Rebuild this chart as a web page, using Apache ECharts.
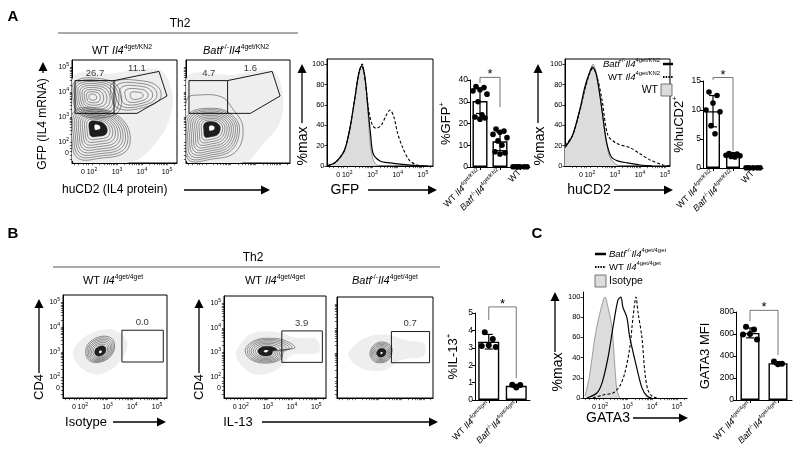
<!DOCTYPE html>
<html>
<head>
<meta charset="utf-8">
<script src="https://cdn.jsdelivr.net/npm/echarts@6.0.0/dist/echarts.min.js"></script>
<style>
html, body { margin: 0; padding: 0; background: #fff; }
#fig { width: 800px; height: 461px; }
</style>
</head>
<body>
<div id="fig"></div>
<script>
var FONT = '"Liberation Sans", Arial, Helvetica, sans-serif';

// ---- categories ----
var aCats = ['WT {i|Il4}{s|4get/KN2}', '{i|Batf}{s|-/-}{i|Il4}{s|4get/KN2}', 'WT'];
var bCats = ['WT {i|Il4}{s|4get/4get}', '{i|Batf}{s|-/-}{i|Il4}{s|4get/4get}'];

// ---- A : flow plots (values are decade positions on the biex axis) ----
var a1Speckle = [[1.24,1.2],[1.24,4.6],[2.7,4.75],[4.7,4.9],[5.2,4.0],[5.1,2.9],[4.5,1.9],[3.6,1.2]];
var a1LowCore = [2.2, 2.62];
var a1LowRing = [[1.28,3.23],[2.32,3.32],[3.12,2.99],[3.52,2.29],[3.32,1.59],[2.32,1.34],[1.44,1.34],[1.2,2.08]];
var a1UpCore = [2.0, 3.81];
var a1UpRing = [[1.32,4.43],[2.32,4.55],[3.04,4.22],[3.12,3.32],[2.52,2.99],[1.52,3.11],[1.24,3.73]];
var a1RightCore = [3.8, 3.85];
var a1RightRing = [[2.84,4.39],[3.92,4.47],[4.64,4.22],[4.72,3.73],[4.12,3.4],[3.12,3.32],[2.8,3.73]];

var a2Speckle = [[1.24,1.2],[1.24,4.6],[3.0,4.7],[4.7,4.85],[5.1,4.0],[5.0,2.8],[4.3,1.9],[3.6,1.2]];
var a2LowCore = [2.24, 2.58];
var a2LowRing = [[1.28,3.1],[2.36,3.35],[3.1,3.05],[3.36,2.49],[3.04,1.67],[2.16,1.38],[1.36,1.34],[1.2,2.08]];
var a2OuterRing = [[1.24,3.73],[1.76,3.89],[2.64,3.81],[3.04,3.4],[3.5,2.58],[3.2,1.6],[2.2,1.3],[1.3,1.28],[1.2,2.3]];

var aRectGate = [[1.32,3.15],[1.32,4.47],[2.88,4.47],[2.88,3.15],[1.32,3.15]];
var aPolyGate = [[2.88,4.47],[4.68,4.84],[5.0,3.85],[3.8,3.15],[2.88,3.15]];
var a1GateLabels = [[2.12,4.75,'26.7'],[3.8,4.95,'11.1']];
var a2GateLabels = [[2.12,4.75,'4.7'],[3.8,4.95,'1.6']];

// ---- A : histograms [decade, % of max] ----
var gfpCtl = [[1.24,0.5],[1.5,3],[1.7,7],[1.9,15],[2.1,35],[2.3,65],[2.45,88],[2.59,100],[2.71,85],[2.83,50],[2.91,22],[3.03,6],[3.18,1],[3.4,0]];
var gfpBatf = [[1.24,0.5],[1.5,3],[1.7,8],[1.9,16],[2.1,36],[2.3,66],[2.45,90],[2.57,98],[2.7,88],[2.83,55],[2.93,30],[3.03,12],[3.3,5],[3.7,3],[4.2,1.5],[4.8,0.3],[5.2,0]];
var gfpWt = [[1.24,0.5],[1.5,3],[1.7,8],[1.9,16],[2.1,36],[2.3,66],[2.45,90],[2.59,100],[2.72,82],[2.85,55],[3.0,40],[3.15,37],[3.35,40],[3.55,50],[3.7,55],[3.85,48],[4.0,32],[4.2,18],[4.45,6],[4.75,1],[5.1,0]];

var hucdCtl = [[1.0,20],[1.3,30],[1.6,55],[1.8,75],[2.0,92],[2.12,100],[2.28,88],[2.48,55],[2.68,20],[2.8,8],[3.08,1],[3.3,0]];
var hucdBatf = [[1.0,18],[1.3,30],[1.6,56],[1.8,78],[2.0,93],[2.1,97],[2.25,90],[2.45,60],[2.65,25],[2.85,9],[3.1,5],[3.5,3],[4.0,1],[4.5,0]];
var hucdWt = [[1.0,20],[1.3,30],[1.6,55],[1.8,76],[2.0,92],[2.12,96],[2.28,88],[2.48,65],[2.72,30],[3.08,22],[3.6,18],[4.0,12],[4.4,6],[4.92,1],[5.2,0]];

// ---- A : bar charts ----
var gfpWtDots = [37, 36.5, 35.5, 35, 33.5, 30, 24, 23, 22.5, 22];
var gfpBatfDots = [17.5, 16.5, 16, 15, 13.5, 12, 10, 7, 6.5, 6];
var gfpCtlDots = [0.1, 0.1, 0.1, 0.1, 0.1, 0.1];
var gfpMean = [30.3, 11.8, 0.1];
var gfpSd = [5.7, 4.3, 0];
var gfpSig = [38.5, 41.2, 27.5];

var hucdWtDots = [13.1, 12.5, 11.2, 10, 9.7, 7.3, 5.9];
var hucdBatfDots = [2.5, 2.4, 2.3, 2.2, 2.1, 2.0, 1.9];
var hucdCtlDots = [0.05, 0.05, 0.05, 0.05, 0.05];
var hucdMean = [9.8, 2.2, 0.05];
var hucdSd = [2.7, 0.25, 0];
var hucdSig = [15.2, 15.6, 3.0];

// ---- B : flow plots ----
var bGate = [[3.58,2.6],[3.58,3.88],[5.25,3.88],[5.25,2.6],[3.58,2.6]];
var b1GateLabels = [[4.4,4.2,'0.0']];
var b2GateLabels = [[4.4,4.2,'3.9']];
var b3GateLabels = [[4.4,4.2,'0.7']];
var b1Speckle = [[1.6,3.0],[2.2,3.7],[3.2,3.9],[3.8,3.4],[3.4,2.5],[2.6,2.1],[1.9,2.4]];
var b1Core = [2.71, 3.0];
var b1Ring = [[2.15,3.2],[2.5,3.55],[3.04,3.62],[3.28,3.34],[3.14,2.85],[2.62,2.58],[2.2,2.72]];
var b2Speckle = [[1.7,3.0],[2.3,3.75],[3.3,3.85],[4.2,3.6],[5.0,3.55],[5.1,3.0],[4.0,2.9],[3.4,2.3],[2.5,2.1],[1.9,2.5]];
var b2Core = [2.92, 3.05];
var b2Ring = [[2.08,3.13],[2.5,3.5],[3.12,3.58],[3.67,3.5],[4.12,3.21],[3.67,3.05],[3.54,2.73],[2.92,2.57],[2.29,2.73]];
var b3Speckle = [[1.7,3.0],[2.4,3.6],[3.4,3.75],[4.3,3.5],[5.0,3.4],[5.0,2.9],[4.0,2.7],[3.3,2.3],[2.5,2.3],[1.9,2.6]];
var b3Core = [3.15, 3.0];
var b3Ring = [[2.64,3.0],[2.85,3.35],[3.2,3.45],[3.55,3.3],[3.6,3.0],[3.4,2.68],[3.0,2.6],[2.75,2.72]];

var il13WtDots = [3.9, 3.5, 3.15, 3.1, 3.05];
var il13BatfDots = [0.88, 0.86, 0.72];
var il13Mean = [3.35, 0.82];
var il13Sd = [0.42, 0.08];
var il13Sig = [4.6, 5.35, 1.25];

// ---- C ----
var gataIso = [[1.28,2],[1.45,20],[1.68,60],[1.89,85],[2.09,100],[2.21,90],[2.37,70],[2.49,30],[2.57,8],[2.69,0]];
var gataBatf = [[1.36,0],[1.76,5],[1.97,15],[2.21,40],[2.41,70],[2.61,97],[2.73,100],[2.81,90],[2.97,80],[3.09,60],[3.37,30],[3.58,10],[3.78,2],[3.98,0]];
var gataWt = [[1.6,0],[2.01,3],[2.41,5],[2.69,12],[2.89,25],[3.09,50],[3.22,80],[3.34,100],[3.42,85],[3.58,60],[3.7,25],[3.82,8],[3.98,2],[4.18,0]];

var gataWtDots = [665, 640, 600, 595, 550];
var gataBatfDots = [350, 330, 325];
var gataMean = [610, 335];
var gataSd = [45, 13];
var gataSig = [715, 815, 410];

// ---------------------------------------------------------------
var dotOffsets = [-4, 4, 0, -7, 7, -2, 2, -5, 5, 0];

function richFor(size) {
    return {
        i: {fontSize: size, fontStyle: 'italic', fontFamily: FONT, lineHeight: size * 1.4},
        s: {fontSize: Math.round(size * 6.2) / 10, verticalAlign: 'top', fontFamily: FONT}
    };
}

var decTicks = [1.3, 1.45, 1.64, 1.75, 1.85];
for (var d = 2; d <= 5; d++) {
    for (var k = 1; k < 10; k++) decTicks.push(d + Math.log10(k));
}

function flowAxis(dim, gi, min, max, zeroAt, showLabels) {
    return {
        type: 'value', gridIndex: gi, min: min, max: max,
        axisLine: {show: true, onZero: false, lineStyle: {color: '#000', width: 1}},
        axisTick: {show: true, length: 2.2, customValues: decTicks.filter(function (t) { return t > min && t < max; }),
            lineStyle: {color: '#000', width: 0.6}},
        axisLabel: {show: showLabels, customValues: [zeroAt, 2, 3, 4, 5], fontSize: 7, lineHeight: 10,
            margin: dim === 'x' ? 4 : 3, color: '#000', fontFamily: FONT,
            formatter: function (v) { return v < 1.9 ? '0' : '10{s|' + Math.round(v) + '}'; },
            rich: {s: {fontSize: 5, verticalAlign: 'top', fontFamily: FONT}}},
        splitLine: {show: false}
    };
}

function pctAxis(gi) {
    var v = [0, 20, 40, 60, 80, 100];
    return {
        type: 'value', gridIndex: gi, min: 0, max: 105,
        axisLine: {show: true, lineStyle: {color: '#000', width: 1}},
        axisTick: {show: true, length: 2.5, customValues: v, lineStyle: {color: '#000', width: 0.8}},
        axisLabel: {customValues: v, fontSize: 7.5, margin: 2.5, color: '#000', fontFamily: FONT},
        splitLine: {show: false}
    };
}

function catAxis(gi, cats) {
    return {
        type: 'category', gridIndex: gi, data: cats,
        axisLine: {show: true, lineStyle: {color: '#000', width: 1}},
        axisTick: {show: true, alignWithLabel: true, length: 3, lineStyle: {color: '#000'}},
        axisLabel: {rotate: 45, interval: 0, fontSize: 9, lineHeight: 12, margin: 4, color: '#000',
            fontFamily: FONT, rich: richFor(9)},
        splitLine: {show: false}
    };
}

function numAxis(gi, max, step, name, gap) {
    return {
        type: 'value', gridIndex: gi, min: 0, max: max, interval: step,
        name: name, nameLocation: 'middle', nameGap: gap, nameRotate: 90,
        nameTextStyle: {fontSize: 13, lineHeight: 17, color: '#000', fontFamily: FONT,
            rich: {s: {fontSize: 8, verticalAlign: 'top', fontFamily: FONT}}},
        axisLine: {show: true, lineStyle: {color: '#000', width: 1}},
        axisTick: {show: true, length: 3, lineStyle: {color: '#000'}},
        axisLabel: {fontSize: 8.5, margin: 2, color: '#000', fontFamily: FONT},
        splitLine: {show: false}
    };
}

function contour(gi, speckle, pops) {
    return {
        type: 'custom', xAxisIndex: gi, yAxisIndex: gi, silent: true, clip: true, z: 2,
        data: [[3, 3]],
        renderItem: function (params, api) {
            var kids = [];
            kids.push({type: 'polygon', shape: {points: speckle.map(function (p) { return api.coord(p); }), smooth: 0.35},
                style: {fill: '#eeeeee', stroke: null}});
            pops.forEach(function (pop) {
                var c = api.coord(pop.core);
                var ring = pop.ring.map(function (p) { return api.coord(p); });
                var scaled = function (s) {
                    return ring.map(function (q) { return [c[0] + (q[0] - c[0]) * s, c[1] + (q[1] - c[1]) * s]; });
                };
                for (var k = pop.levels; k >= 1; k--) {
                    kids.push({type: 'polygon', shape: {points: scaled(Math.pow(k / pop.levels, 0.85)), smooth: 0.4},
                        style: {fill: k <= pop.dark ? '#1c1c1c' : 'none', stroke: '#2a2a2a', lineWidth: 0.5}});
                }
                if (pop.dark) {
                    kids.push({type: 'polygon', shape: {points: scaled(0.1), smooth: 0.4}, style: {fill: '#fff'}});
                }
            });
            return {type: 'group', children: kids};
        }
    };
}

function gateLine(gi, pts) {
    return {type: 'line', xAxisIndex: gi, yAxisIndex: gi, data: pts, symbol: 'none', silent: true, z: 4,
        lineStyle: {color: '#000', width: 0.9}, animation: false};
}

function gateText(gi, items) {
    return {type: 'scatter', xAxisIndex: gi, yAxisIndex: gi, data: items, symbolSize: 0, silent: true, z: 5,
        label: {show: true, position: 'inside', fontSize: 9.5, color: '#000', fontFamily: FONT,
            formatter: function (p) { return p.value[2]; }}};
}

function hist(gi, data, kind) {
    var s = {type: 'line', xAxisIndex: gi, yAxisIndex: gi, data: data, symbol: 'none', smooth: 0.3, silent: true, clip: true};
    if (kind === 'ctl') {
        s.lineStyle = {color: '#7a7a7a', width: 0.7};
        s.areaStyle = {color: '#dcdcdc', opacity: 1};
        s.z = 2;
    } else if (kind === 'batf') {
        s.lineStyle = {color: '#000', width: 1.2};
        s.z = 3;
    } else {
        s.lineStyle = {color: '#000', width: 1.1, type: [3, 2]};
        s.z = 4;
    }
    return s;
}

function bars(gi, means, width) {
    return {type: 'bar', xAxisIndex: gi, yAxisIndex: gi, data: means, barWidth: width, silent: true, z: 2,
        itemStyle: {color: '#fff', borderColor: '#000', borderWidth: 1.4}};
}

function errBars(gi, means, sds) {
    return {
        type: 'custom', xAxisIndex: gi, yAxisIndex: gi, silent: true, z: 4,
        data: means.map(function (m, i) { return [i, m, sds[i]]; }),
        renderItem: function (params, api) {
            var c = api.value(0), m = api.value(1), s = api.value(2);
            if (!s) return null;
            var hi = api.coord([c, m + s]), lo = api.coord([c, m - s]);
            var st = {stroke: '#000', lineWidth: 1.2};
            return {type: 'group', children: [
                {type: 'line', shape: {x1: hi[0], y1: hi[1], x2: lo[0], y2: lo[1]}, style: st},
                {type: 'line', shape: {x1: hi[0] - 4, y1: hi[1], x2: hi[0] + 4, y2: hi[1]}, style: st},
                {type: 'line', shape: {x1: lo[0] - 4, y1: lo[1], x2: lo[0] + 4, y2: lo[1]}, style: st}
            ]};
        }
    };
}

function dots(gi, groups, r) {
    var data = [];
    groups.forEach(function (vals, c) {
        vals.forEach(function (v, i) { data.push([c, v, i]); });
    });
    return {
        type: 'custom', xAxisIndex: gi, yAxisIndex: gi, silent: true, z: 5, clip: false, data: data,
        renderItem: function (params, api) {
            var p = api.coord([api.value(0), api.value(1)]);
            var dx = dotOffsets[api.value(2) % dotOffsets.length];
            return {type: 'circle', shape: {cx: p[0] + dx, cy: p[1], r: r}, style: {fill: '#000'}};
        }
    };
}

function sig(gi, b) {
    return {
        type: 'custom', xAxisIndex: gi, yAxisIndex: gi, silent: true, z: 6, clip: false, data: [[0, b[1]]],
        renderItem: function (params, api) {
            var p1 = api.coord([0, b[0]]), p2 = api.coord([0, b[1]]), p3 = api.coord([1, b[1]]), p4 = api.coord([1, b[2]]);
            return {type: 'group', children: [
                {type: 'polyline', shape: {points: [p1, p2, p3, p4]}, style: {stroke: '#666', lineWidth: 0.9, fill: null}},
                {type: 'text', x: (p2[0] + p3[0]) / 2, y: p2[1] + 4,
                    style: {text: '*', fontSize: 13, fontFamily: FONT, fill: '#000', align: 'center', verticalAlign: 'bottom'}}
            ]};
        }
    };
}

// ---- graphic helpers ----
function label(x, y, text, size, o) {
    o = o || {};
    return {type: 'text', x: x, y: y, rotation: o.rot || 0, silent: true, z: 100,
        style: {text: text, fontSize: size, fontFamily: FONT, fontWeight: o.bold ? 'bold' : 'normal', fill: '#000',
            lineHeight: size * 1.4, align: o.align || 'center', verticalAlign: 'middle', rich: richFor(size)}};
}
function rule(x1, y1, x2, y2, color, w, dash) {
    return {type: 'line', silent: true, z: 100, shape: {x1: x1, y1: y1, x2: x2, y2: y2},
        style: {stroke: color || '#000', lineWidth: w || 1, lineDash: dash || null}};
}
function hArrow(x1, x2, y) {
    return [rule(x1, y, x2 - 8, y, '#000', 1.3),
        {type: 'polygon', silent: true, z: 100, shape: {points: [[x2 - 9, y - 4.5], [x2, y], [x2 - 9, y + 4.5]]}, style: {fill: '#000'}}];
}
function vArrow(x, yTop, yBot) {
    return [rule(x, yBot, x, yTop + 8, '#000', 1.3),
        {type: 'polygon', silent: true, z: 100, shape: {points: [[x - 4.5, yTop + 9], [x, yTop], [x + 4.5, yTop + 9]]}, style: {fill: '#000'}}];
}
function swatch(x, y, w, h) {
    return {type: 'rect', silent: true, z: 100, shape: {x: x, y: y, width: w, height: h}, style: {fill: '#dcdcdc', stroke: '#555', lineWidth: 0.8}};
}

var UP = Math.PI / 2;
var graphics = [].concat(
    label(13, 17, 'A', 15, {bold: true}),
    label(180, 24, 'Th2', 12),
    rule(58, 33, 298, 33, '#555', 1),
    label(122, 51, aCats[0], 11),
    label(236, 51, aCats[1], 11),
    label(43, 124, 'GFP (IL4 mRNA)', 12, {rot: UP}),
    vArrow(43, 62, 73),
    label(62, 190, 'huCD2 (IL4 protein)', 12, {align: 'left'}),
    hArrow(184, 270, 190),
    label(303, 146, '%max', 14, {rot: UP}),
    vArrow(302, 64, 123),
    label(345, 190, 'GFP', 14),
    hArrow(368, 437, 190),
    label(540, 146, '%max', 14, {rot: UP}),
    vArrow(538, 64, 123),
    label(589, 190, 'huCD2', 14),
    hArrow(614, 673, 190),
    label(660, 64, aCats[1], 9.5, {align: 'right'}),
    rule(663, 64, 673, 64, '#000', 2.5),
    label(660, 77, aCats[0], 9.5, {align: 'right'}),
    rule(663, 77, 673, 77, '#000', 2, [1.5, 1.2]),
    label(658, 90, 'WT', 10.5, {align: 'right'}),
    swatch(661, 84, 11, 12),

    label(13, 234, 'B', 15, {bold: true}),
    label(253, 258, 'Th2', 12),
    rule(53, 267, 440, 267, '#555', 1),
    label(113, 281, bCats[0], 11),
    label(275, 281, bCats[0], 11),
    label(385, 281, bCats[1], 11),
    label(39, 387, 'CD4', 13, {rot: UP}),
    vArrow(39, 299, 373),
    label(86, 422, 'Isotype', 13),
    hArrow(113, 166, 422),
    label(199, 387, 'CD4', 13, {rot: UP}),
    vArrow(199, 299, 373),
    label(238, 422, 'IL-13', 13),
    hArrow(262, 438, 422),

    label(537, 234, 'C', 15, {bold: true}),
    rule(595, 254, 606, 254, '#000', 2.5),
    label(609, 254, bCats[1], 9.5, {align: 'left'}),
    rule(595, 267, 606, 267, '#000', 2, [1.5, 1.2]),
    label(609, 267, bCats[0], 9.5, {align: 'left'}),
    swatch(595, 275, 11, 12),
    label(609, 281, 'Isotype', 10.5, {align: 'left'}),
    label(558, 372, '%max', 14, {rot: UP}),
    vArrow(555, 292, 352),
    label(608, 418, 'GATA3', 14),
    hArrow(633, 688, 418)
);

var boxed = {show: true, borderColor: '#000', borderWidth: 1, backgroundColor: 'transparent'};
function g(l, t, w, h, box) {
    var o = {left: l, top: t, width: w, height: h, containLabel: false};
    if (box) Object.assign(o, boxed);
    return o;
}

var option = {
    animation: false,
    backgroundColor: '#fff',
    textStyle: {fontFamily: FONT},
    grid: [
        g(72, 60, 105, 103, true),     // 0 A1
        g(186, 60, 104, 103, true),    // 1 A2
        g(327, 59, 106, 107, true),    // 2 GFP hist
        g(470, 80, 60, 87),            // 3 %GFP+
        g(565, 59, 105, 107, true),    // 4 huCD2 hist
        g(703, 81, 60, 87),            // 5 %huCD2+
        g(63, 295, 104, 103, true),    // 6 B1
        g(224, 296, 102, 102, true),   // 7 B2
        g(337, 297, 96, 101, true),    // 8 B3
        g(475, 313, 55, 87),           // 9 %IL-13+
        g(583, 292, 104, 106),         // 10 GATA3 hist
        g(736, 312, 56, 88)            // 11 GATA3 MFI
    ],
    xAxis: [
        flowAxis('x', 0, 1.2, 5.4, 1.64, true),
        flowAxis('x', 1, 1.2, 5.4, 1.64, false),
        flowAxis('x', 2, 1.2, 5.4, 1.64, true),
        catAxis(3, aCats),
        flowAxis('x', 4, 1.0, 5.2, 1.64, true),
        catAxis(5, aCats),
        flowAxis('x', 6, 1.2, 5.4, 1.64, true),
        flowAxis('x', 7, 1.2, 5.4, 1.64, true),
        flowAxis('x', 8, 1.2, 5.4, 1.64, false),
        catAxis(9, bCats),
        flowAxis('x', 10, 1.2, 5.4, 1.64, true),
        catAxis(11, bCats)
    ],
    yAxis: [
        flowAxis('y', 0, 1.15, 5.3, 1.55, true),
        flowAxis('y', 1, 1.15, 5.3, 1.55, false),
        pctAxis(2),
        numAxis(3, 40, 10, '%GFP{s|+}', 12),
        pctAxis(4),
        numAxis(5, 15, 5, '%huCD2{s|+}', 9),
        flowAxis('y', 6, 1.15, 5.3, 1.55, true),
        flowAxis('y', 7, 1.15, 5.3, 1.55, true),
        flowAxis('y', 8, 1.15, 5.3, 1.55, false),
        numAxis(9, 5, 1, '%IL-13{s|+}', 13),
        pctAxis(10),
        numAxis(11, 800, 200, 'GATA3 MFI', 22)
    ],
    series: [
        contour(0, a1Speckle, [
            {core: a1LowCore, ring: a1LowRing, levels: 12, dark: 3},
            {core: a1UpCore, ring: a1UpRing, levels: 9, dark: 0},
            {core: a1RightCore, ring: a1RightRing, levels: 5, dark: 0}
        ]),
        gateLine(0, aRectGate), gateLine(0, aPolyGate), gateText(0, a1GateLabels),
        contour(1, a2Speckle, [
            {core: a2LowCore, ring: a2OuterRing, levels: 1, dark: 0},
            {core: a2LowCore, ring: a2LowRing, levels: 12, dark: 3}
        ]),
        gateLine(1, aRectGate), gateLine(1, aPolyGate), gateText(1, a2GateLabels),

        hist(2, gfpCtl, 'ctl'), hist(2, gfpBatf, 'batf'), hist(2, gfpWt, 'wt'),
        bars(3, gfpMean, 15), errBars(3, gfpMean, gfpSd),
        dots(3, [gfpWtDots, gfpBatfDots, gfpCtlDots], 2.8), sig(3, gfpSig),

        hist(4, hucdCtl, 'ctl'), hist(4, hucdBatf, 'batf'), hist(4, hucdWt, 'wt'),
        bars(5, hucdMean, 14), errBars(5, hucdMean, hucdSd),
        dots(5, [hucdWtDots, hucdBatfDots, hucdCtlDots], 2.8), sig(5, hucdSig),

        contour(6, b1Speckle, [{core: b1Core, ring: b1Ring, levels: 9, dark: 3}]),
        gateLine(6, bGate), gateText(6, b1GateLabels),
        contour(7, b2Speckle, [{core: b2Core, ring: b2Ring, levels: 9, dark: 3}]),
        gateLine(7, bGate), gateText(7, b2GateLabels),
        contour(8, b3Speckle, [{core: b3Core, ring: b3Ring, levels: 8, dark: 3}]),
        gateLine(8, bGate), gateText(8, b3GateLabels),

        bars(9, il13Mean, 21), errBars(9, il13Mean, il13Sd),
        dots(9, [il13WtDots, il13BatfDots], 3), sig(9, il13Sig),

        hist(10, gataIso, 'ctl'), hist(10, gataBatf, 'batf'), hist(10, gataWt, 'wt'),
        bars(11, gataMean, 19), errBars(11, gataMean, gataSd),
        dots(11, [gataWtDots, gataBatfDots], 3), sig(11, gataSig)
    ],
    graphic: {elements: graphics}
};

var chart = echarts.init(document.getElementById('fig'), null, {renderer: 'canvas'});
chart.setOption(option);
</script>
</body>
</html>
